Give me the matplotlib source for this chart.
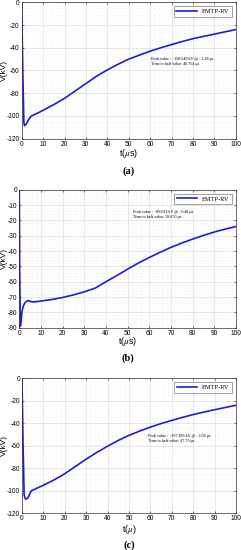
import matplotlib
matplotlib.use("Agg")
import matplotlib.pyplot as plt
from matplotlib.ticker import MultipleLocator, AutoMinorLocator

# panel (a)
t_a = [0, 0.5, 1.0, 1.28, 2, 3, 4, 4.6, 6, 8, 10, 15, 20, 25, 30, 35, 40, 45,
       50, 55, 60, 65, 70, 75, 80, 85, 90, 95, 100]
v_a = [0, -60, -105, -108.6, -107.5, -104, -101, -100, -98.7, -97, -95, -90,
       -84.5, -78, -71.5, -65, -59.5, -54.5, -50, -46.5, -43, -40, -37.2,
       -34.5, -32, -30, -28, -26, -24]

# panel (b)
t_b = [0, 0.2, 0.48, 0.8, 1.2, 1.8, 2.5, 3.2, 4, 5, 6, 8, 10, 15, 20, 25, 30,
       35, 40, 45, 50, 55, 60, 65, 70, 75, 80, 85, 90, 95, 100]
v_b = [0, -55, -89, -86, -80, -76, -74, -73, -72.3, -72.8, -73.2, -73, -72.6,
       -71.6, -70.3, -68.6, -66.6, -64.2, -60, -56, -51.8, -47.8, -44.2,
       -40.8, -37.6, -34.8, -32.2, -29.8, -27.6, -25.7, -24]

# panel (c)
t_c = [0, 0.5, 1.0, 1.5, 2.0, 2.6, 3.2, 3.8, 4.5, 6, 8, 10, 15, 20, 25, 30, 35,
       40, 45, 50, 55, 60, 65, 70, 75, 80, 85, 90, 95, 100]
v_c = [0, -60, -104, -107.3, -107.5, -106.8, -105, -102, -100, -98.8, -97,
       -95.3, -90.5, -85, -78.5, -72, -66, -60.5, -55.3, -50.8, -47, -43.5,
       -40.3, -37.5, -34.8, -32.3, -30.1, -28, -26, -24]

notes = [
    "Peak value :  -108.649 kV @ : 1.28 μs\nTime to half value: 46.704 μs",
    "Peak value :  -89.033 kV @ : 0.48 μs\nTime to half value: 58.650 μs",
    "Peak value :  -107.483 kV @ : 2.00 μs\nTime to half value: 47.79 μs",
]

W, H = 241, 550
plt.rcParams['mathtext.fontset'] = 'stix'
plt.rcParams['axes.unicode_minus'] = False
plt.rcParams['font.family'] = ['Liberation Sans', 'DejaVu Sans']
fig = plt.figure(figsize=(W / 100, H / 100), dpi=100)

panels = [
    # left, top, right, bottom (px), data, ylim, ystep, yminor, note pos, xlabel, xlabel y, tag, tag y
    (21.7, 2.3, 235.7, 138.7, t_a, v_a, -120, 20, 4, (60.5, -48), "t($\\mu$s)", 154, "(a)", 171),
    (19.3, 189.7, 236.0, 327.7, t_b, v_b, -90, 10, 5, (52.5, -13), "t($\\mu$s)", 342, "(b)", 358),
    (22.0, 378.3, 236.0, 513.0, t_c, v_c, -120, 20, 4, (59, -49.5), "t($\\mu$)", 529, "(c)", 545),
]

for i, (l, tp, r, b, t, v, ymin, ystep, ysub, npos, xl, xly, tag, tagy) in enumerate(panels):
    ax = fig.add_axes([l / W, 1 - b / H, (r - l) / W, (b - tp) / H])
    ax.plot(t, v, color='#1c1cd6', lw=1.2, label='EMTP-RV')
    ax.set_xlim(0, 100)
    ax.set_ylim(ymin, 0)
    ax.xaxis.set_major_locator(MultipleLocator(10))
    ax.yaxis.set_major_locator(MultipleLocator(ystep))
    ax.xaxis.set_minor_locator(AutoMinorLocator(5))
    ax.yaxis.set_minor_locator(AutoMinorLocator(ysub))
    ax.grid(which='major', color='#dcdcdc', lw=0.5)
    ax.grid(which='minor', color='#ececec', lw=0.4, ls=':')
    ax.tick_params(which='both', direction='in', top=True, right=True,
                   labelsize=4.8, length=1.5, width=0.4, pad=1.5)
    ax.tick_params(which='minor', length=0)
    for s in ax.spines.values():
        s.set_linewidth(0.5)
        s.set_color('#333333')
    ax.set_ylabel("V(kV)", fontsize=6)
    ax.yaxis.set_label_coords(-(l - 8) / (r - l), 0.5)
    leg = ax.legend(loc='upper right', prop={'family': 'Liberation Serif', 'size': 4.6},
                    handlelength=3.2, borderpad=0.4, frameon=True, fancybox=False,
                    borderaxespad=0.6)
    leg.get_frame().set_edgecolor('#333333')
    leg.get_frame().set_linewidth(0.4)
    ax.text(npos[0], npos[1], notes[i], fontsize=3.0, family='Liberation Serif',
            va='top', linespacing=1.45)
    fig.text((l + r) / 2 / W, 1 - xly / H, xl, ha='center', va='center', fontsize=6.5)
    fig.text((l + r) / 2 / W, 1 - tagy / H, tag, ha='center', va='center', fontsize=7.5,
             family='Liberation Serif', fontweight='bold')

fig.savefig("out.png", dpi=100)
